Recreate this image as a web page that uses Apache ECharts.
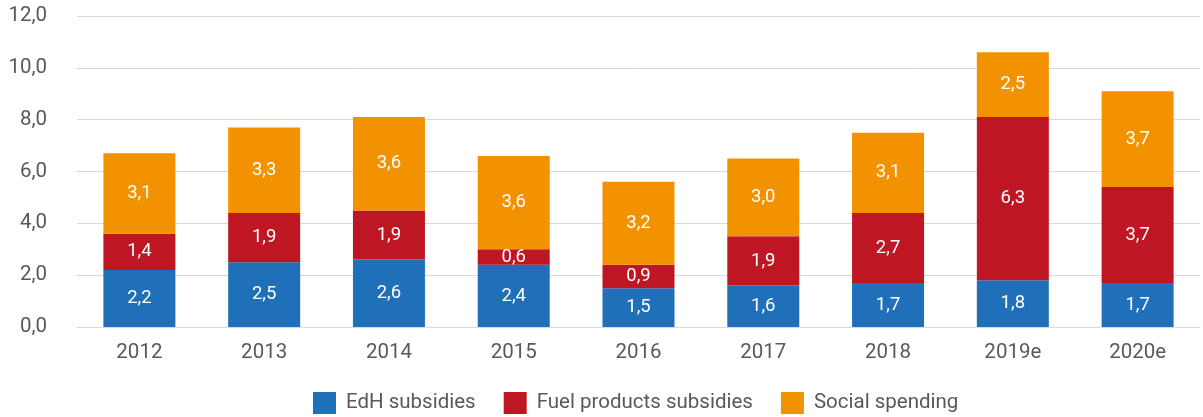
<!DOCTYPE html>
<html>
<head>
<meta charset="utf-8">
<script src="https://cdn.jsdelivr.net/npm/echarts@6/dist/echarts.min.js"></script>
<style>
  html, body { margin: 0; padding: 0; background: #fff; }
  #chart { width: 1203px; height: 417px; }
</style>
</head>
<body>
<div id="chart"></div>
<script>
const categories = ['2012', '2013', '2014', '2015', '2016', '2017', '2018', '2019e', '2020e'];
const edhSubsidies = [2.2, 2.5, 2.6, 2.4, 1.5, 1.6, 1.7, 1.8, 1.7];
const fuelSubsidies = [1.4, 1.9, 1.9, 0.6, 0.9, 1.9, 2.7, 6.3, 3.7];
const socialSpending = [3.1, 3.3, 3.6, 3.6, 3.2, 3.0, 3.1, 2.5, 3.7];
const yTicks = { min: 0, max: 12, interval: 2 };

const fmt = v => v.toFixed(1).replace('.', ',');
const FONT = 'Roboto';
const TEXT_GREY = '#595959';

function barSeries(name, data, color) {
  return {
    name: name,
    type: 'bar',
    stack: 'total',
    data: data,
    barWidth: 72,
    itemStyle: { color: color },
    label: {
      show: true,
      position: 'inside',
      color: '#fff',
      fontFamily: FONT,
      fontSize: 18.5,
      formatter: p => fmt(p.value)
    }
  };
}

const chart = echarts.init(document.getElementById('chart'));
chart.setOption({
  animation: false,
  textStyle: { fontFamily: FONT },
  grid: { left: 77, right: 3, top: 16, bottom: 90, containLabel: false },
  xAxis: {
    type: 'category',
    data: categories,
    axisLine: { show: true, lineStyle: { color: '#d9d9d9', width: 1 } },
    axisTick: { show: false },
    axisLabel: { color: TEXT_GREY, fontSize: 20.5, fontFamily: FONT, margin: 15 }
  },
  yAxis: {
    type: 'value',
    min: yTicks.min,
    max: yTicks.max,
    interval: yTicks.interval,
    axisLine: { show: false },
    axisTick: { show: false },
    splitLine: { lineStyle: { color: '#d9d9d9', width: 1 } },
    axisLabel: { color: TEXT_GREY, fontSize: 20.5, fontFamily: FONT, margin: 30, formatter: v => fmt(v) }
  },
  legend: {
    left: 313,
    top: 392,
    padding: 0,
    itemWidth: 23,
    itemHeight: 22,
    itemGap: 28,
    icon: 'rect',
    textStyle: { color: TEXT_GREY, fontSize: 20.5, fontFamily: FONT, padding: [0, 0, 0, 5] },
    data: ['EdH subsidies', 'Fuel products subsidies', 'Social spending']
  },
  series: [
    barSeries('EdH subsidies', edhSubsidies, '#1f70b8'),
    barSeries('Fuel products subsidies', fuelSubsidies, '#be1622'),
    barSeries('Social spending', socialSpending, '#f39200')
  ]
});
</script>
</body>
</html>
